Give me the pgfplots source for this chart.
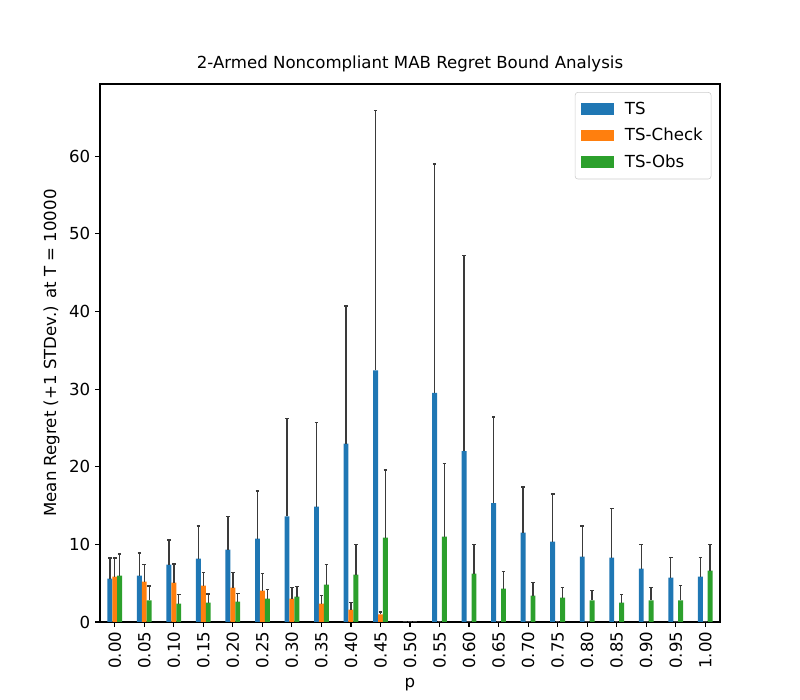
\documentclass[border=0pt]{standalone}
\usepackage{fontspec}
\setmainfont{DejaVu Sans}
\usepackage{pgfplots}
\pgfplotsset{compat=1.18}
\usepackage{pgfplotstable}
\definecolor{c1}{HTML}{1F77B4}
\definecolor{c2}{HTML}{FF7F0E}
\definecolor{c3}{HTML}{2CA02C}
\definecolor{errc}{HTML}{3A3A3A}
\pgfplotstableread{
x ts tse ch che ob obe
0 5.60 2.66 5.86 2.40 5.98 2.82
1 5.98 2.92 5.20 2.20 2.77 1.89
2 7.40 3.20 5.08 2.42 2.38 1.16
3 8.17 4.23 4.70 1.67 2.50 1.13
4 9.33 4.27 4.44 1.93 2.64 1.03
5 10.75 6.15 4.05 2.19 3.00 1.18
6 13.60 12.60 3.00 1.44 3.28 1.29
7 14.86 10.84 2.38 1.03 4.83 2.57
8 22.97 17.73 1.60 0.90 6.10 3.87
9 32.40 33.50 0.97 0.33 10.87 8.73
10 0 0 0 0 0 0
11 29.50 29.50 0 0 11.00 9.40
12 22.00 25.20 0 0 6.24 3.73
13 15.30 11.10 0 0 4.30 2.20
14 11.50 5.90 0 0 3.41 1.67
15 10.36 6.14 0 0 3.15 1.29
16 8.43 3.97 0 0 2.77 1.28
17 8.30 6.30 0 0 2.50 1.04
18 6.89 3.08 0 0 2.77 1.67
19 5.73 2.57 0 0 2.77 1.93
20 5.86 2.44 0 0 6.63 3.34
}\data
\begin{document}
\begin{tikzpicture}
\path[use as bounding box] (0,0) rectangle (8in,7in);
\begin{axis}[
  at={(1in,0.78in)}, anchor=south west,
  scale only axis, width=6.2in, height=5.38in,
  xmin=-0.5, xmax=20.5, ymin=0, ymax=69.3,
  ybar, bar width=0.16667,
  xtick={0,...,20},
  xticklabels={0.00,0.05,0.10,0.15,0.20,0.25,0.30,0.35,0.40,0.45,0.50,0.55,0.60,0.65,0.70,0.75,0.80,0.85,0.90,0.95,1.00},
  x tick label style={rotate=90, anchor=east},
  ytick={0,10,...,60},
  tick align=outside, tick pos=left,
  major tick length=3.5pt,
  every tick/.style={black, line width=0.8pt},
  axis line style={line width=0.8pt},
  /pgf/number format/assume math mode=true,
  tick label style={font=\fontsize{12}{14}\selectfont},
  label style={font=\fontsize{12}{14}\selectfont},
  title style={font=\fontsize{12}{14}\selectfont, yshift=-1pt},
  title={2-Armed Noncompliant MAB Regret Bound Analysis},
  xlabel={p},
  ylabel={Mean Regret (+1 STDev.) at T = 10000},
  legend style={at={(0.986,0.985)}, anchor=north east, draw=black!20, rounded corners=2pt,
    font=\fontsize{12}{14}\selectfont, inner xsep=4pt, inner ysep=5pt, row sep=4.5pt,
    /tikz/every odd column/.append style={column sep=6pt}},
  legend cell align=left,
  legend image code/.code={\fill[#1, sharp corners] (0pt,-4.2pt) rectangle (24pt,4.2pt);},
  error bars/y dir=plus,
  error bars/y explicit,
  error bars/error bar style={color=errc, line width=1pt},
  error bars/error mark options={rotate=90, color=errc, mark size=1.3pt, line width=1.2pt},
]
\addplot[fill=c1, draw=none, bar shift=-0.16667, error bars/.cd, y dir=plus, y explicit] table[x=x, y=ts, y error=tse]{\data};
\addplot[fill=c2, draw=none, bar shift=0, error bars/.cd, y dir=plus, y explicit] table[x=x, y=ch, y error=che]{\data};
\addplot[fill=c3, draw=none, bar shift=0.16667, error bars/.cd, y dir=plus, y explicit] table[x=x, y=ob, y error=obe]{\data};
\legend{TS,TS-Check,TS-Obs}
\end{axis}
\end{tikzpicture}
\end{document}
